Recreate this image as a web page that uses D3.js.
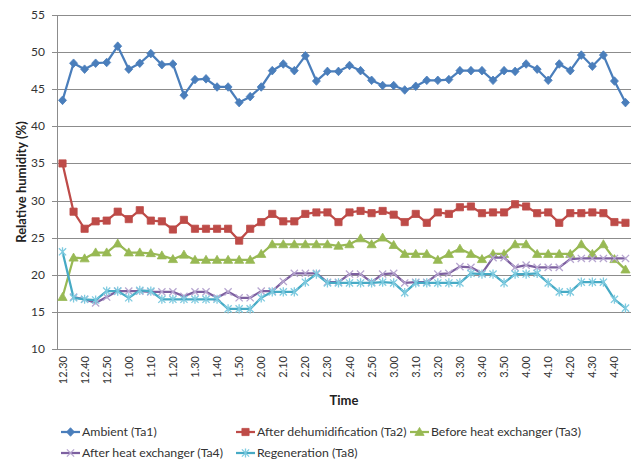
<!DOCTYPE html>
<html>
<head>
<meta charset="utf-8">
<script src="https://cdn.jsdelivr.net/npm/d3@7"></script>
<style>
  body { margin: 0; background: #fff; }
  text { font-family: Lato, "Liberation Sans", sans-serif; fill: #222; }
</style>
</head>
<body>
<div id="chart"></div>
<script>
// categories (5 minute steps, only every other one is labelled)
var times = ["12.30","12.35","12.40","12.45","12.50","12.55","1.00","1.05","1.10","1.15",
  "1.20","1.25","1.30","1.35","1.40","1.45","1.50","1.55","2.00","2.05",
  "2.10","2.15","2.20","2.25","2.30","2.35","2.40","2.45","2.50","2.55",
  "3.00","3.05","3.10","3.15","3.20","3.25","3.30","3.35","3.40","3.45",
  "3.50","3.55","4.00","4.05","4.10","4.15","4.20","4.25","4.30","4.35",
  "4.40","4.45"];

var ambient = [43.5, 48.5, 47.7, 48.5, 48.6, 50.8, 47.7, 48.5, 49.8, 48.3,
  48.4, 44.2, 46.3, 46.4, 45.3, 45.3, 43.2, 44.0, 45.3, 47.5,
  48.4, 47.5, 49.5, 46.1, 47.4, 47.4, 48.2, 47.5, 46.2, 45.5,
  45.5, 44.9, 45.4, 46.2, 46.2, 46.3, 47.5, 47.5, 47.5, 46.2,
  47.5, 47.4, 48.4, 47.7, 46.2, 48.4, 47.5, 49.6, 48.1, 49.6,
  46.1, 43.2];

var afterDehum = [35.0, 28.5, 26.2, 27.2, 27.3, 28.5, 27.5, 28.7, 27.3, 27.2,
  26.1, 27.4, 26.2, 26.2, 26.2, 26.2, 24.6, 26.2, 27.1, 28.2,
  27.2, 27.2, 28.2, 28.4, 28.4, 27.1, 28.4, 28.6, 28.3, 28.6,
  28.1, 27.1, 28.2, 27.0, 28.4, 28.2, 29.1, 29.2, 28.3, 28.4,
  28.4, 29.5, 29.2, 28.3, 28.4, 27.0, 28.3, 28.3, 28.4, 28.3,
  27.1, 27.0];

var beforeHx = [17.0, 22.3, 22.2, 23.0, 23.0, 24.2, 23.0, 23.0, 22.9, 22.6,
  22.1, 22.7, 22.0, 22.0, 22.0, 22.0, 22.0, 22.0, 22.8, 24.1,
  24.1, 24.1, 24.1, 24.1, 24.1, 23.9, 24.1, 24.9, 24.1, 25.0,
  24.0, 22.8, 22.8, 22.8, 22.0, 22.8, 23.5, 22.8, 22.1, 22.8,
  22.8, 24.1, 24.1, 22.8, 22.8, 22.8, 22.8, 24.1, 22.8, 24.1,
  22.1, 20.7];

var afterHx = [null, 17.0, 16.7, 16.2, 17.0, 17.8, 17.8, 17.8, 17.7, 17.7,
  17.7, 17.1, 17.7, 17.7, 16.9, 17.7, 16.9, 16.9, 17.8, 17.8,
  19.1, 20.2, 20.2, 20.2, 19.0, 19.0, 20.1, 20.1, 19.0, 20.1,
  20.2, 18.9, 19.0, 19.0, 20.1, 20.2, 21.1, 21.0, 20.2, 22.3,
  22.3, 21.0, 21.3, 21.0, 21.0, 21.0, 22.1, 22.2, 22.2, 22.2,
  22.2, 22.2];

var regeneration = [23.1, 16.9, 16.7, 16.6, 17.8, 17.8, 16.9, 17.9, 17.8, 16.7,
  16.7, 16.7, 16.7, 16.7, 16.7, 15.4, 15.4, 15.4, 16.9, 17.7,
  17.7, 17.7, 19.0, 20.1, 18.9, 18.9, 18.9, 18.9, 18.9, 19.0,
  18.9, 17.6, 18.9, 18.9, 18.9, 18.9, 18.9, 20.2, 20.1, 20.1,
  18.9, 20.1, 20.1, 20.2, 18.9, 17.7, 17.7, 19.0, 19.0, 19.0,
  16.7, 15.5];

var yTicks = [10, 15, 20, 25, 30, 35, 40, 45, 50, 55];

var seriesNames = ["Ambient (Ta1)", "After dehumidification (Ta2)", "Before heat exchanger (Ta3)",
  "After heat exchanger (Ta4)", "Regeneration (Ta8)"];

// marker shapes
var markerPaths = {
  diamond: "M0,-4.3L4,0L0,4.3L-4,0Z",
  square: "M-3.6,-3.6H3.6V3.6H-3.6Z",
  triangle: "M0,-4.6L4.6,3.4L-4.6,3.4Z",
  cross: "M-3.6,-3.6L3.6,3.6M-3.6,3.6L3.6,-3.6",
  star: "M-3.6,-3.6L3.6,3.6M-3.6,3.6L3.6,-3.6M0,-4.6L0,4.6"
};

var series = [
  { name: seriesNames[0], values: ambient, color: "#4a7ebb", marker: "diamond", filled: true },
  { name: seriesNames[1], values: afterDehum, color: "#be4b48", marker: "square", filled: true },
  { name: seriesNames[2], values: beforeHx, color: "#98b954", marker: "triangle", filled: true },
  { name: seriesNames[3], values: afterHx, color: "#7d60a0", marker: "cross", filled: false, mColor: "#b7a6d0" },
  { name: seriesNames[4], values: regeneration, color: "#46aac5", marker: "star", filled: false, mColor: "#7fcbe0" }
];

var W = 636, H = 461;
var margin = { top: 15, right: 5, bottom: 112, left: 57 };

var svg = d3.select("#chart").append("svg")
  .attr("width", W)
  .attr("height", H);

var x = d3.scaleBand()
  .domain(times)
  .range([margin.left, W - margin.right]);

var y = d3.scaleLinear()
  .domain([10, 55])
  .range([H - margin.bottom, margin.top]);

function cx(t) { return x(t) + x.bandwidth() / 2; }

// gridlines
svg.append("g")
  .selectAll("line")
  .data(yTicks)
  .join("line")
  .attr("x1", margin.left - 5)
  .attr("x2", W - margin.right)
  .attr("y1", d => Math.round(y(d)) + 0.5)
  .attr("y2", d => Math.round(y(d)) + 0.5)
  .attr("stroke", "#8c8c8c")
  .attr("stroke-width", 1);

// y axis line
svg.append("line")
  .attr("x1", margin.left + 0.5).attr("x2", margin.left + 0.5)
  .attr("y1", y(55)).attr("y2", y(10))
  .attr("stroke", "#8c8c8c");

// y tick labels
svg.append("g")
  .selectAll("text")
  .data(yTicks)
  .join("text")
  .attr("x", 45)
  .attr("y", d => y(d) + 4)
  .attr("text-anchor", "end")
  .style("font-size", "12px")
  .style("fill", "#333")
  .text(d => d);

// x tick labels (every other category)
svg.append("g")
  .selectAll("text")
  .data(times.filter((t, i) => i % 2 === 0))
  .join("text")
  .attr("transform", d => "translate(" + (cx(d) + 4) + "," + (y(10) + 7) + ") rotate(-90)")
  .attr("text-anchor", "end")
  .style("font-size", "11px")
  .style("fill", "#333")
  .text(d => d);

// axis titles
svg.append("text")
  .attr("transform", "translate(26," + ((y(55) + y(10)) / 2) + ") rotate(-90)")
  .attr("text-anchor", "middle")
  .style("font-size", "13px")
  .style("font-weight", "bold")
  .text("Relative humidity (%)");

svg.append("text")
  .attr("x", (margin.left + W - margin.right) / 2)
  .attr("y", 405)
  .attr("text-anchor", "middle")
  .style("font-size", "13px")
  .style("font-weight", "bold")
  .text("Time");

// lines and markers
var line = d3.line()
  .defined(d => d.v !== null)
  .x(d => cx(d.t))
  .y(d => y(d.v));

series.forEach(function (s) {
  var pts = s.values.map((v, i) => ({ t: times[i], v: v }));
  svg.append("path")
    .datum(pts)
    .attr("fill", "none")
    .attr("stroke", s.color)
    .attr("stroke-width", 2.25)
    .attr("stroke-linejoin", "round")
    .attr("d", line);

  svg.append("g")
    .selectAll("path")
    .data(pts.filter(d => d.v !== null))
    .join("path")
    .attr("transform", d => "translate(" + cx(d.t) + "," + y(d.v) + ")")
    .attr("d", markerPaths[s.marker])
    .attr("fill", s.filled ? s.color : "none")
    .attr("stroke", s.filled ? s.color : s.mColor)
    .attr("stroke-width", s.filled ? 0.8 : 1.3);
});

// legend
var legendPos = [
  { x: 61, y: 432 }, { x: 236, y: 432 }, { x: 410, y: 432 },
  { x: 61, y: 453 }, { x: 236, y: 453 }
];

series.forEach(function (s, i) {
  var p = legendPos[i];
  var g = svg.append("g").attr("transform", "translate(" + p.x + "," + p.y + ")");
  g.append("line")
    .attr("x1", 0).attr("x2", 19)
    .attr("y1", 0).attr("y2", 0)
    .attr("stroke", s.color)
    .attr("stroke-width", 2.25);
  g.append("path")
    .attr("transform", "translate(9.5,0)")
    .attr("d", markerPaths[s.marker])
    .attr("fill", s.filled ? s.color : "none")
    .attr("stroke", s.filled ? s.color : s.mColor)
    .attr("stroke-width", s.filled ? 0.8 : 1.3);
  g.append("text")
    .attr("x", 21)
    .attr("y", 4.3)
    .style("font-size", "12.3px")
    .style("fill", "#333")
    .text(s.name);
});
</script>
</body>
</html>
